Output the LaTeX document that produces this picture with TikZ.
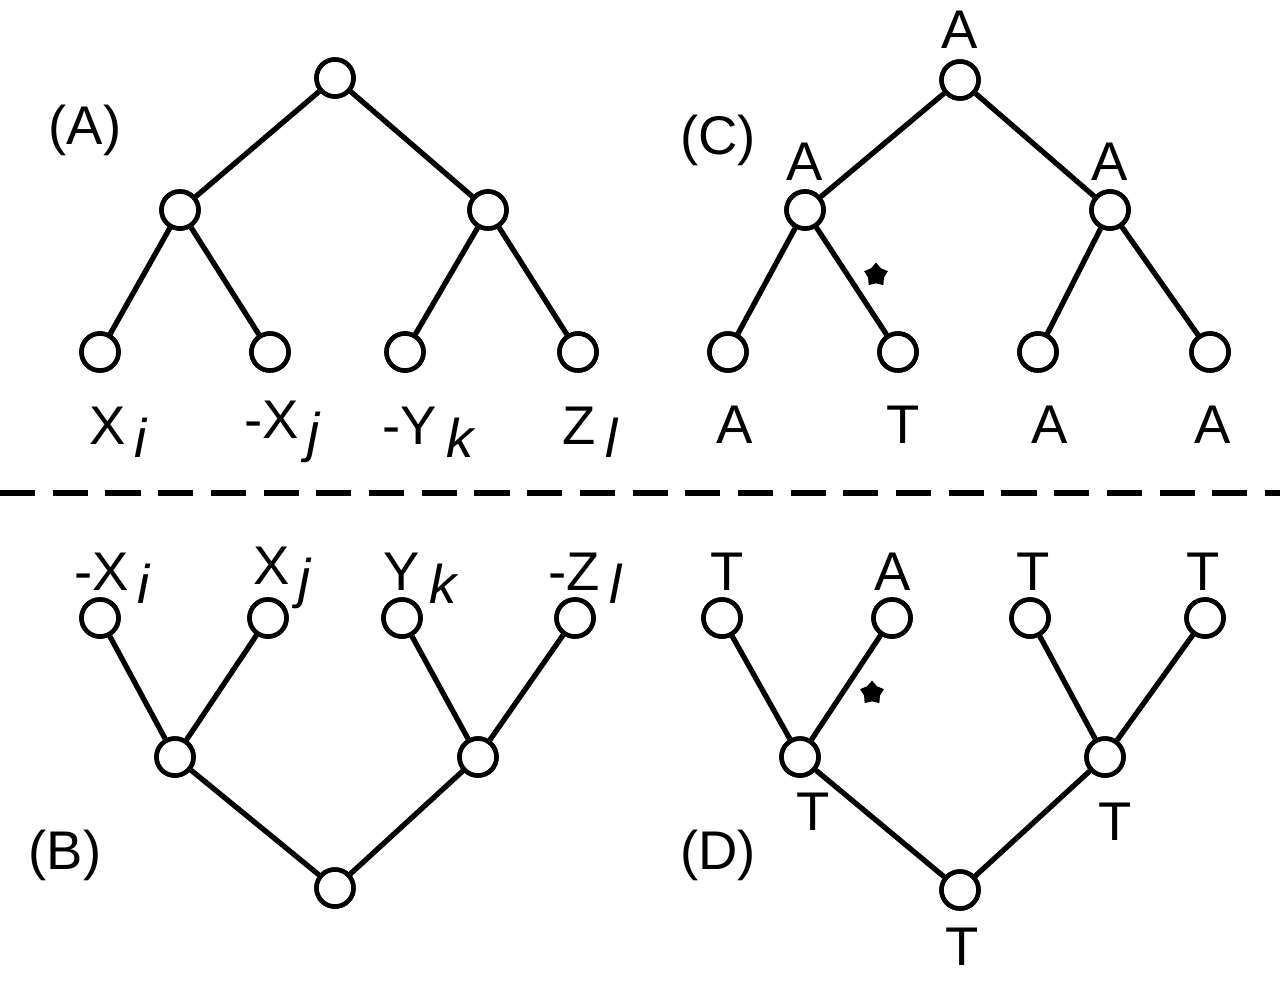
\documentclass[tikz,border=0pt]{standalone}
\usepackage{fontspec}
\setmainfont{Liberation Sans}
\usetikzlibrary{shapes.geometric}
\begin{document}
\begin{tikzpicture}[x=0.02cm,y=-0.02cm,
 v/.style={circle,draw,line width=2.6pt,fill=white,minimum size=0.74cm,inner sep=0pt},
 e/.style={line width=3pt},
 lab/.style={font=\fontsize{31}{36}\selectfont,inner sep=0pt},
 st/.style={star,star points=5,fill=black,minimum size=0.5cm,inner sep=0pt}]
\newcommand{\sbi}[1]{\raisebox{-0.45ex}{\itshape #1}}
\useasboundingbox (0,0) rectangle (1280,985);
% (A)
\node[v] (a0) at (335,78) {};
\node[v] (a1) at (180,210) {};
\node[v] (a2) at (488,210) {};
\node[v] (a3) at (100,352) {};
\node[v] (a4) at (270,352) {};
\node[v] (a5) at (405,352) {};
\node[v] (a6) at (578,352) {};
\draw[e] (a0)--(a1) (a0)--(a2) (a1)--(a3) (a1)--(a4) (a2)--(a5) (a2)--(a6);
\foreach \n in {a0,a1,a2,a3,a4,a5,a6} \node[v] at (\n) {};
\node[lab] (la) at (85,130) {(A)};
\node[lab] (l1) at (118,432) {X\,\sbi{i}};
\node[lab] (l2) at (282,432) {-X\,\sbi{j}};
\node[lab] (l3) at (428,432) {-Y\,\sbi{k}};
\node[lab] (l4) at (590,432) {Z\,\sbi{l}};
% (C)
\node[v] (c0) at (960,80) {};
\node[v] (c1) at (805,210) {};
\node[v] (c2) at (1110,210) {};
\node[v] (c3) at (728,352) {};
\node[v] (c4) at (898,352) {};
\node[v] (c5) at (1038,352) {};
\node[v] (c6) at (1210,352) {};
\draw[e] (c0)--(c1) (c0)--(c2) (c1)--(c3) (c1)--(c4) (c2)--(c5) (c2)--(c6);
\foreach \n in {c0,c1,c2,c3,c4,c5,c6} \node[v] at (\n) {};
\node[lab] (lc) at (718,140) {(C)};
\node[lab] (cl0) at (960,30) {A};
\node[lab] (cl1) at (805,162) {A};
\node[lab] (cl2) at (1110,162) {A};
\node[lab] (cl3) at (735,425) {A};
\node[lab] (cl4) at (903,425) {T};
\node[lab] (cl5) at (1050,425) {A};
\node[lab] (cl6) at (1213,425) {A};
\node[st] (cs) at (876,275) {};
% dashed
\coordinate (d0) at (0,493); \coordinate (d1) at (1280,493);
\draw[line width=3pt,dash pattern=on 20pt off 10pt] (d0)--(d1);
% (B)
\node[v] (b0) at (335,888) {};
\node[v] (b1) at (175,757) {};
\node[v] (b2) at (478,757) {};
\node[v] (b3) at (100,618) {};
\node[v] (b4) at (268,618) {};
\node[v] (b5) at (402,618) {};
\node[v] (b6) at (575,618) {};
\draw[e] (b0)--(b1) (b0)--(b2) (b1)--(b3) (b1)--(b4) (b2)--(b5) (b2)--(b6);
\foreach \n in {b0,b1,b2,b3,b4,b5,b6} \node[v] at (\n) {};
\node[lab] (lb) at (65,855) {(B)};
\node[lab] (m1) at (112,578) {-X\,\sbi{i}};
\node[lab] (m2) at (282,578) {X\,\sbi{j}};
\node[lab] (m3) at (420,578) {Y\,\sbi{k}};
\node[lab] (m4) at (585,578) {-Z\,\sbi{l}};
% (D)
\node[v] (d0n) at (960,890) {};
\node[v] (dd1) at (800,757) {};
\node[v] (dd2) at (1105,757) {};
\node[v] (dd3) at (722,618) {};
\node[v] (dd4) at (892,618) {};
\node[v] (dd5) at (1030,618) {};
\node[v] (dd6) at (1205,618) {};
\draw[e] (d0n)--(dd1) (d0n)--(dd2) (dd1)--(dd3) (dd1)--(dd4) (dd2)--(dd5) (dd2)--(dd6);
\foreach \n in {d0n,dd1,dd2,dd3,dd4,dd5,dd6} \node[v] at (\n) {};
\node[lab] (ld) at (718,855) {(D)};
\node[lab] (dl3) at (727,572) {T};
\node[lab] (dl4) at (893,572) {A};
\node[lab] (dl5) at (1033,572) {T};
\node[lab] (dl6) at (1203,572) {T};
\node[lab] (dl1) at (813,812) {T};
\node[lab] (dl2) at (1115,822) {T};
\node[lab] (dl0) at (962,947) {T};
\node[st] (ds) at (872,693) {};
\end{tikzpicture}
\end{document}
